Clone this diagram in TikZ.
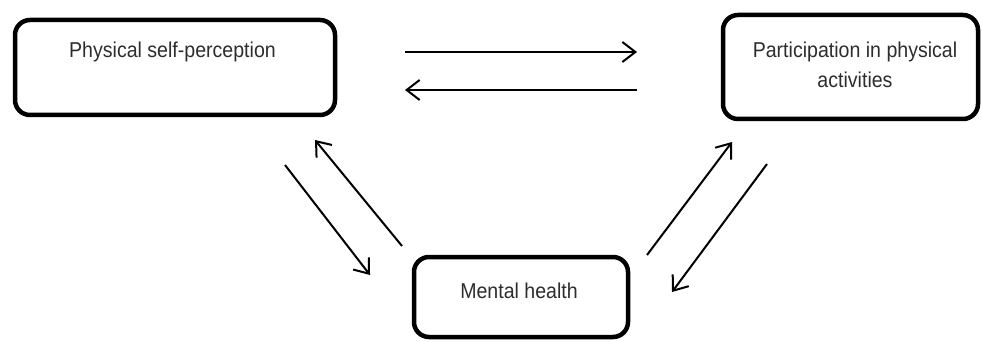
\documentclass[tikz,border=0pt]{standalone}
\usepackage{fontspec}
\setmainfont{Liberation Sans}
\newfontfamily\narrowsans[FakeStretch=0.91]{Liberation Sans}
\usetikzlibrary{arrows.meta}
\definecolor{txt}{RGB}{45,45,45}
\tikzset{
  box/.style={draw=black, line width=4.5pt, rounded corners=15pt, rectangle, inner sep=0pt},
  lbl/.style={text=txt, font=\narrowsans\fontsize{21.5}{30}\selectfont, inner sep=0pt, align=center, anchor=base},
  rel/.style={line width=2pt, -{Straight Barb[length=13pt,width=20pt,line width=2pt]}}
}
\begin{document}
\begin{tikzpicture}[x=1pt,y=-1pt]
\useasboundingbox (0,0) rectangle (982,342);
% boxes
\node[box, minimum width=320pt, minimum height=95pt] (b1) at (175,67.5) {};
\node[box, minimum width=255pt, minimum height=104pt] (b2) at (850.5,67) {};
\node[box, minimum width=214pt, minimum height=80pt] (b3) at (521,297) {};
% labels
\node[lbl] (t1) at (172.5,58) {Physical self-perception};
\node[lbl] (t2) at (855,88) {Participation in physical\\activities};
\node[lbl] (t3) at (519,298) {Mental health};
% arrow end points
\coordinate (a1s) at (405,52);  \coordinate (a1e) at (637,52);
\coordinate (a2s) at (637,90);  \coordinate (a2e) at (405,90);
\coordinate (a3s) at (285,165); \coordinate (a3e) at (370,275);
\coordinate (a4s) at (402,246); \coordinate (a4e) at (315,140);
\coordinate (a5s) at (647,255); \coordinate (a5e) at (732,142);
\coordinate (a6s) at (767,164); \coordinate (a6e) at (672,292);
\draw[rel] (a1s) -- (a1e);
\draw[rel] (a2s) -- (a2e);
\draw[rel] (a3s) -- (a3e);
\draw[rel] (a4s) -- (a4e);
\draw[rel] (a5s) -- (a5e);
\draw[rel] (a6s) -- (a6e);
\end{tikzpicture}
\end{document}
